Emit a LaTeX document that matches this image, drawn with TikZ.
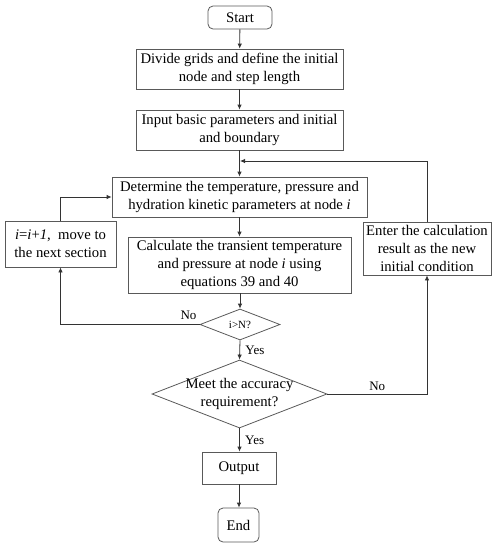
\documentclass[tikz,border=0pt]{standalone}
\usepackage{fontspec}
\setmainfont{Liberation Serif}
\usetikzlibrary{arrows.meta,shapes.geometric}
\begin{document}
\begin{tikzpicture}[x=1pt,y=-1pt,
  font=\fontsize{14.7}{18}\selectfont,
  box/.style={draw=black!65,line width=0.8pt,rectangle,inner sep=0pt,align=center},
  term/.style={box,rounded corners=5pt},
  dia/.style={draw=black!65,line width=0.8pt,diamond,inner sep=0pt},
  arr/.style={draw=black!80,line width=0.8pt,-{Latex[length=5pt,width=4.5pt]}},
  lab/.style={font=\fontsize{13}{15}\selectfont}]
\useasboundingbox (0,0) rectangle (499,550);
\node[term,minimum width=64,minimum height=23] (start) at (240,17.5) {Start};
\node[box,minimum width=207,minimum height=40] (divide) at (239.5,69) {Divide grids and define the initial\\node and step length};
\node[box,minimum width=207,minimum height=40] (input) at (239.5,130) {Input basic parameters and initial\\and boundary};
\node[box,minimum width=255,minimum height=40] (det) at (239.5,197) {Determine the temperature, pressure and\\hydration kinetic parameters at node \textit{i}};
\node[box,minimum width=111,minimum height=46] (left) at (60.5,244) {\textit{i}=\textit{i}+\textit{1},\ \ move to\\the next section};
\node[box,minimum width=223,minimum height=56] (calc) at (239.5,265) {Calculate the transient temperature\\and pressure at node \textit{i} using\\equations 39 and 40};
\node[dia,minimum width=80,minimum height=31,font=\fontsize{11}{13}\selectfont] (d1) at (240,324.5) {i>N?};
\node[dia,minimum width=175,minimum height=68] (d2) at (239.5,394) {};
\node[align=center,inner sep=0pt] (d2t) at (d2.center) {Meet the accuracy\\requirement?};
\node[box,minimum width=128,minimum height=53] (enter) at (427,248.5) {Enter the calculation\\result as the new\\initial condition};
\node[box,minimum width=74,minimum height=32] (out) at (239,468) {Output};
\node[term,minimum width=41,minimum height=34] (end) at (238.5,525) {End};
\coordinate (fb) at (240,161);

\draw[arr] (start) -- (divide);
\draw[arr] (divide) -- (input);
\draw[arr] (input.south) -- (det.north);
\draw[arr] (det) -- (det|-calc.north);
\draw[arr] (calc.south-|d1) -- (d1.north);
\draw[arr] (d1.south) -- node[lab,right,xshift=2pt] {Yes} (d2.north);
\draw[arr] (d2.south) -- node[lab,right,xshift=2pt] {Yes} (out.north-|d2);
\draw[arr] (out) -- (out.south|-end.north);
\draw[arr] (d1.west) -| node[lab,pos=0.04,above,yshift=1pt] {No} (left.south);
\draw[arr] (left.north) |- (det.west);
\draw[arr] (d2.east) -| node[lab,pos=0.25,above] {No} (enter.south);
\draw[arr] (enter.north) |- (fb);
\end{tikzpicture}
\end{document}
